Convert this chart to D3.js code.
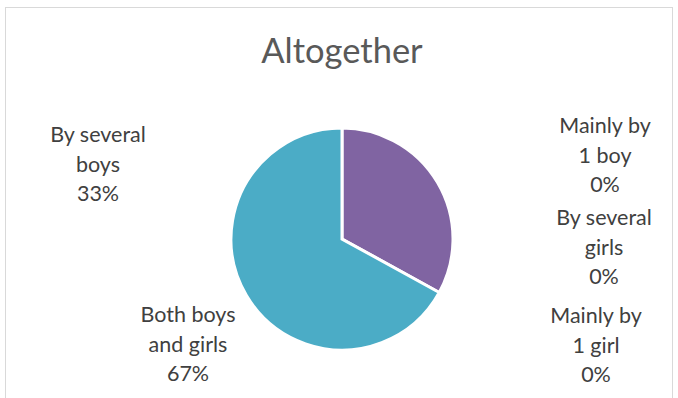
<!DOCTYPE html>
<html>
<head>
<meta charset="utf-8">
<script src="https://cdn.jsdelivr.net/npm/d3@7"></script>
<style>
  body { margin: 0; background: #fff; }
  text { font-family: Lato, "Open Sans", sans-serif; }
</style>
</head>
<body>
<script>
// data
var categories = ["Mainly by 1 boy", "By several girls", "Mainly by 1 girl", "By several boys", "Both boys and girls"];
var values = [0, 0, 0, 33, 67];
var colors = ["#4F81BD", "#C0504D", "#9BBB59", "#8064A2", "#4BACC6"];
var labelLines = [
  ["Mainly by", "1 boy"],
  ["By several", "girls"],
  ["Mainly by", "1 girl"],
  ["By several", "boys"],
  ["Both boys", "and girls"]
];
// where Excel put each label block (centre x, first baseline y)
var labelPos = [[605, 133], [604, 225], [596, 323], [98, 142], [188, 322]];

var w = 678, h = 398;
var cx = 342, cy = 239, r = 111;

var svg = d3.select("body").append("svg")
  .attr("width", w)
  .attr("height", h);

svg.append("rect")
  .attr("x", 5.5).attr("y", 7.5)
  .attr("width", 667).attr("height", 420)
  .attr("fill", "#fff")
  .attr("stroke", "#d9d9d9");

svg.append("text")
  .attr("x", cx).attr("y", 63)
  .attr("text-anchor", "middle")
  .attr("font-size", 34.5)
  .attr("fill", "#595959")
  .text("Altogether");

var pie = d3.pie().sort(null).value(function (d) { return d; });
var arc = d3.arc().innerRadius(0).outerRadius(r);
var arcs = pie(values);

svg.append("g")
  .attr("transform", "translate(" + cx + "," + cy + ")")
  .selectAll("path")
  .data(arcs)
  .enter()
  .append("path")
  .attr("d", arc)
  .attr("fill", function (d, i) { return colors[i]; })
  .attr("stroke", "#fff")
  .attr("stroke-width", function (d) { return d.value > 0 ? 3 : 0; });

var lh = 29.5;
var lab = svg.append("g").selectAll("text")
  .data(categories)
  .enter()
  .append("text")
  .attr("text-anchor", "middle")
  .attr("font-size", 21.5)
  .attr("fill", "#404040");

lab.each(function (d, i) {
  var t = d3.select(this);
  var lines = labelLines[i].concat([Math.round(values[i]) + "%"]);
  lines.forEach(function (s, k) {
    t.append("tspan")
      .attr("x", labelPos[i][0])
      .attr("y", labelPos[i][1] + k * lh)
      .text(s);
  });
});
</script>
</body>
</html>
